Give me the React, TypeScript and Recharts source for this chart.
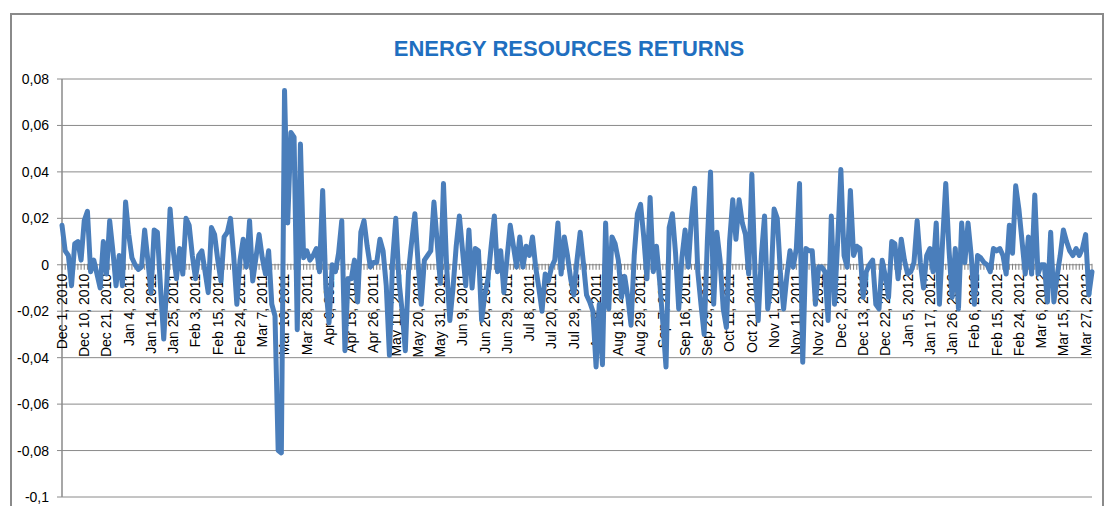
import { LineChart, Line, XAxis, YAxis, CartesianGrid } from "recharts"

const tickLabels = [
  "Dec 1, 2010", "Dec 10, 2010", "Dec 21, 2010", "Jan 4, 2011", "Jan 14, 2011", "Jan 25, 2011",
  "Feb 3, 2011", "Feb 15, 2011", "Feb 24, 2011", "Mar 7, 2011", "Mar 16, 2011", "Mar 28, 2011",
  "Apr 6, 2011", "Apr 15, 2011", "Apr 26, 2011", "May 11, 2011", "May 20, 2011", "May 31, 2011",
  "Jun 9, 2011", "Jun 20, 2011", "Jun 29, 2011", "Jul 8, 2011", "Jul 20, 2011", "Jul 29, 2011",
  "Aug 9, 2011", "Aug 18, 2011", "Aug 29, 2011", "Sep 7, 2011", "Sep 16, 2011", "Sep 29, 2011",
  "Oct 11, 2011", "Oct 21, 2011", "Nov 1, 2011", "Nov 11, 2011", "Nov 22, 2011", "Dec 2, 2011",
  "Dec 13, 2011", "Dec 22, 2011", "Jan 5, 2012", "Jan 17, 2012", "Jan 26, 2012", "Feb 6, 2012",
  "Feb 15, 2012", "Feb 24, 2012", "Mar 6, 2012", "Mar 15, 2012", "Mar 27, 2012",
]

// daily returns, one row per 7 trading days (one row per date label)
const returns = [
  0.017, 0.006, 0.004, -0.009, 0.009, 0.010, 0.002,
  0.019, 0.023, -0.003, 0.002, -0.004, -0.010, 0.010,
  -0.004, 0.019, 0.006, -0.009, 0.004, -0.009, 0.027,
  0.013, 0.003, 0.000, -0.002, -0.001, 0.015, 0.002,
  -0.012, 0.015, 0.014, -0.010, -0.032, -0.007, 0.024,
  0.006, -0.006, 0.007, -0.004, 0.020, 0.017, 0.004,
  -0.006, 0.004, 0.006, -0.003, -0.012, 0.016, 0.013,
  0.002, -0.007, 0.012, 0.014, 0.020, 0.004, -0.017,
  0.002, 0.011, -0.001, 0.019, -0.007, 0.003, 0.013,
  0.003, -0.004, 0.006, -0.017, -0.022, -0.080, -0.081,
  0.075, 0.018, 0.057, 0.055, -0.028, 0.052, 0.003,
  0.006, 0.002, 0.004, 0.007, -0.003, 0.032, -0.010,
  -0.025, 0.000, -0.003, 0.005, 0.019, -0.037, -0.006,
  -0.006, 0.002, -0.016, 0.014, 0.019, 0.008, -0.001,
  0.001, 0.001, 0.011, 0.006, -0.009, -0.039, 0.002,
  0.020, -0.007, -0.020, -0.037, -0.003, 0.010, 0.022,
  0.001, -0.017, 0.002, 0.004, 0.006, 0.027, 0.010,
  -0.008, 0.035, -0.001, -0.024, -0.010, 0.008, 0.021,
  0.006, -0.009, 0.015, -0.010, 0.007, 0.006, -0.024,
  -0.013, -0.006, 0.008, 0.021, -0.003, 0.006, -0.012,
  0.003, 0.017, 0.008, -0.001, 0.012, -0.001, 0.008,
  0.004, 0.012, -0.001, -0.010, -0.020, -0.004, -0.007,
  -0.001, 0.002, 0.018, -0.004, 0.012, 0.004, -0.006,
  -0.013, 0.002, 0.014, 0.001, -0.013, -0.016, -0.020,
  -0.044, -0.017, -0.043, 0.018, -0.019, 0.012, 0.009,
  0.002, -0.014, -0.005, -0.014, -0.026, 0.004, 0.022,
  0.026, 0.012, -0.006, 0.029, -0.003, 0.008, -0.007,
  -0.025, -0.044, 0.016, 0.022, 0.005, -0.019, 0.003,
  0.015, -0.001, 0.020, 0.033, -0.003, -0.017, -0.030,
  0.010, 0.040, -0.017, 0.014, 0.002, -0.019, -0.027,
  0.010, 0.028, 0.011, 0.028, 0.018, 0.013, -0.004,
  0.039, -0.004, -0.024, 0.004, 0.021, -0.019, -0.009,
  0.024, 0.020, -0.004, -0.019, -0.005, 0.006, -0.001,
  0.007, 0.035, -0.042, 0.007, 0.006, 0.006, -0.017,
  -0.001, -0.001, -0.003, -0.024, 0.021, -0.017, 0.010,
  0.041, 0.004, -0.001, 0.032, 0.004, 0.008, 0.007,
  -0.014, -0.003, 0.000, 0.002, -0.017, -0.019, 0.002,
  -0.005, -0.014, 0.010, 0.009, -0.006, 0.011, 0.002,
  -0.004, -0.003, 0.001, 0.019, 0.001, -0.010, 0.004,
  0.007, -0.003, 0.018, -0.017, 0.010, 0.035, 0.007,
  -0.014, 0.007, -0.019, 0.018, 0.001, 0.018, 0.004,
  -0.017, 0.004, 0.003, 0.001, 0.000, -0.003, 0.007,
  0.006, 0.007, 0.004, -0.004, 0.017, 0.005, 0.034,
  0.024, 0.010, -0.004, 0.012, -0.004, 0.030, -0.004,
  0.000, 0.000, -0.016, 0.014, -0.016, -0.005, 0.004,
  0.015, 0.010, 0.006, 0.004, 0.007, 0.004, 0.007,
  0.013, -0.013, -0.003,
]

const yTicks = [-0.1, -0.08, -0.06, -0.04, -0.02, 0, 0.02, 0.04, 0.06, 0.08]
const yTickLabels = ["-0,1", "-0,08", "-0,06", "-0,04", "-0,02", "0", "0,02", "0,04", "0,06", "0,08"]

const data = returns.map((v, i) => ({ i, v }))

const W = 1116
const H = 514
const TOP = 79
const PLOT_H = 418
const X_AXIS_H = 20
const BOTTOM = H - TOP - PLOT_H
const ZERO_Y = TOP + (0.08 / 0.18) * PLOT_H
const FONT = "'Liberation Sans', Arial, sans-serif"
const MARGIN = { top: TOP, right: 24, bottom: BOTTOM, left: 0 }

const renderDateTick = (props: any) => {
  const { x, payload } = props
  const i = Number(payload.value)
  return (
    <g key={`t-${i}`}>
      <line x1={x} x2={x} y1={ZERO_Y - 1} y2={ZERO_Y + 5} stroke="#7f7f7f" strokeWidth={1} />
      {i % 7 === 0 && (
        <text
          x={x}
          y={ZERO_Y + 9}
          transform={`rotate(-90, ${x}, ${ZERO_Y + 9})`}
          textAnchor="end"
          dy="0.35em"
          fontSize={14}
          fontFamily={FONT}
          fill="#000"
        >
          {tickLabels[i / 7]}
        </text>
      )}
    </g>
  )
}

// two stacked charts with the same layout: grid + axes underneath, the line on top
export default function App() {
  return (
    <div style={{ position: "relative", width: W, height: H, margin: -8, overflow: "hidden", background: "#fff" }}>
      <div
        style={{
          position: "absolute",
          left: 10,
          top: 13,
          width: 1094,
          height: 520,
          border: "2px solid #8a8a8a",
          boxSizing: "border-box",
        }}
      />
      <div
        style={{
          position: "absolute",
          left: 0,
          width: W,
          top: 36,
          textAlign: "center",
          paddingLeft: 22,
          boxSizing: "border-box",
          fontFamily: FONT,
          fontWeight: "bold",
          fontSize: 22,
          color: "#1f6fc0",
        }}
      >
        ENERGY RESOURCES RETURNS
      </div>
      <div style={{ position: "absolute", left: 0, top: 0 }}>
        <LineChart width={W} height={H + X_AXIS_H} data={data} margin={MARGIN}>
          <CartesianGrid vertical={false} stroke="#8a8a8a" strokeWidth={1} />
          <XAxis
            dataKey="i"
            type="category"
            height={X_AXIS_H}
            interval={0}
            axisLine={false}
            tickLine={false}
            tick={renderDateTick}
          />
          <YAxis
            width={62}
            type="number"
            domain={[-0.1, 0.08]}
            ticks={yTicks}
            interval={0}
            axisLine={{ stroke: "#8a8a8a", strokeWidth: 1.5 }}
            tickLine={{ stroke: "#8a8a8a" }}
            tickSize={5}
            tickMargin={8}
            tick={{ fontSize: 14, fontFamily: FONT, fill: "#000" }}
            tickFormatter={(v: number) => yTickLabels[yTicks.indexOf(v)]}
          />
          <Line dataKey="v" stroke="none" strokeOpacity={0} dot={false} activeDot={false} isAnimationActive={false} />
        </LineChart>
      </div>
      <div style={{ position: "absolute", left: 0, top: 0 }}>
        <LineChart width={W} height={H + X_AXIS_H} data={data} margin={MARGIN}>
          <XAxis dataKey="i" type="category" height={X_AXIS_H} axisLine={false} tickLine={false} tick={false} />
          <YAxis width={62} type="number" domain={[-0.1, 0.08]} ticks={yTicks} axisLine={false} tickLine={false} tick={false} />
          <Line
            type="linear"
            dataKey="v"
            stroke="#4a7ebb"
            strokeWidth={5}
            strokeLinejoin="round"
            strokeLinecap="round"
            dot={false}
            activeDot={false}
            isAnimationActive={false}
          />
        </LineChart>
      </div>
    </div>
  )
}
